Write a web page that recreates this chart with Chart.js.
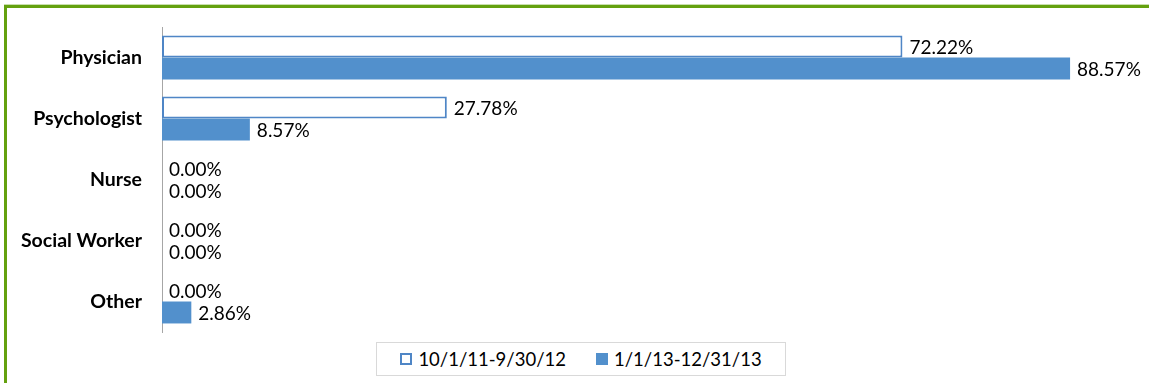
<!DOCTYPE html>
<html>
<head>
<meta charset="utf-8">
<script src="https://cdn.jsdelivr.net/npm/chart.js@4/dist/chart.umd.min.js"></script>
<style>
  html, body { margin: 0; padding: 0; background: #fff; overflow: hidden; }
  #wrap { position: relative; width: 1149px; height: 383px; overflow: hidden; }
  #myChart { display: block; }
  .edge { position: absolute; background: #64a10f; pointer-events: none; }
  .edge.top { left: 4px; top: 5px; width: 1145px; height: 3px; border-top: 1px solid #c9dfae; top: 4px; }
  .edge.left { left: 4px; top: 5px; width: 3px; height: 378px; }
  #legend {
    position: absolute; left: 376px; top: 342px; width: 408px; height: 32px;
    border: 1px solid #d9d9d9; display: flex; align-items: center; justify-content: center;
    font-family: Lato, sans-serif; font-size: 18.5px; color: #000; background: #fff;
  }
  .item { display: flex; align-items: center; margin: 0 15px; }
  .box { width: 12px; height: 12px; box-sizing: border-box; margin-right: 6px; }
</style>
</head>
<body>
<div id="wrap">
  <canvas id="myChart" width="1149" height="383"></canvas>
  <div class="edge top"></div>
  <div class="edge left"></div>
  <div id="legend"></div>
</div>
<script>
var categories = ['Physician', 'Psychologist', 'Nurse', 'Social Worker', 'Other'];
var periodLabels = ['10/1/11-9/30/12', '1/1/13-12/31/13'];
var firstPeriod = [72.22, 27.78, 0.00, 0.00, 0.00];
var secondPeriod = [88.57, 8.57, 0.00, 0.00, 2.86];

var blueLine = '#4f86c6';
var blueFill = '#5290cc';

// percentage text just past the end of each bar
var valueLabels = {
    id: 'valueLabels',
    afterDatasetsDraw: function(chart){
        var ctx = chart.ctx;
        ctx.save();
        ctx.font = '19px Lato, sans-serif';
        ctx.fillStyle = '#000';
        ctx.textBaseline = 'middle';
        ctx.textAlign = 'left';
        chart.data.datasets.forEach(function(ds, i){
            var meta = chart.getDatasetMeta(i);
            meta.data.forEach(function(bar, j){
                ctx.fillText(ds.data[j].toFixed(2) + '%', bar.x + 7, bar.y + 1);
            });
        });
        ctx.restore();
    }
};

var barChartData = {
    type: 'bar',
    data: {
        labels: categories,
        datasets: [{
            label: periodLabels[0],
            data: firstPeriod,
            backgroundColor: '#fff',
            borderColor: blueLine,
            borderWidth: 2,
            borderSkipped: false
        }, {
            label: periodLabels[1],
            data: secondPeriod,
            backgroundColor: blueFill,
            borderWidth: 0
        }]
    },
    options: {
        indexAxis: 'y',
        responsive: false,
        devicePixelRatio: 1,
        animation: false,
        layout: { padding: { top: 27, bottom: 51, right: 13, left: 0 } },
        datasets: { bar: { categoryPercentage: 0.72, barPercentage: 1 } },
        plugins: { legend: { display: false }, tooltip: { enabled: false } },
        scales: {
            x: { display: false, min: 0, max: 95 },
            y: {
                afterFit: function(scale){
                    scale.width = 162;
                    scale.paddingTop = 0;
                    scale.paddingBottom = 0;
                },
                grid: { color: 'transparent', drawTicks: false },
                border: { color: '#a6a6a6', width: 1 },
                ticks: {
                    padding: 20,
                    color: '#000',
                    font: { family: 'Lato, sans-serif', size: 19.5, weight: 'bold' }
                }
            }
        }
    },
    plugins: [valueLabels]
};

var ctx = document.getElementById('myChart').getContext('2d');
var myChart = new Chart(ctx, barChartData);

// legend built from the datasets
var legend = document.getElementById('legend');
myChart.data.datasets.forEach(function(ds){
    var item = document.createElement('div');
    item.className = 'item';
    var box = document.createElement('span');
    box.className = 'box';
    box.style.background = ds.backgroundColor;
    box.style.border = ds.borderWidth ? '2px solid ' + ds.borderColor : 'none';
    item.appendChild(box);
    item.appendChild(document.createTextNode(ds.label));
    legend.appendChild(item);
});
</script>
</body>
</html>
